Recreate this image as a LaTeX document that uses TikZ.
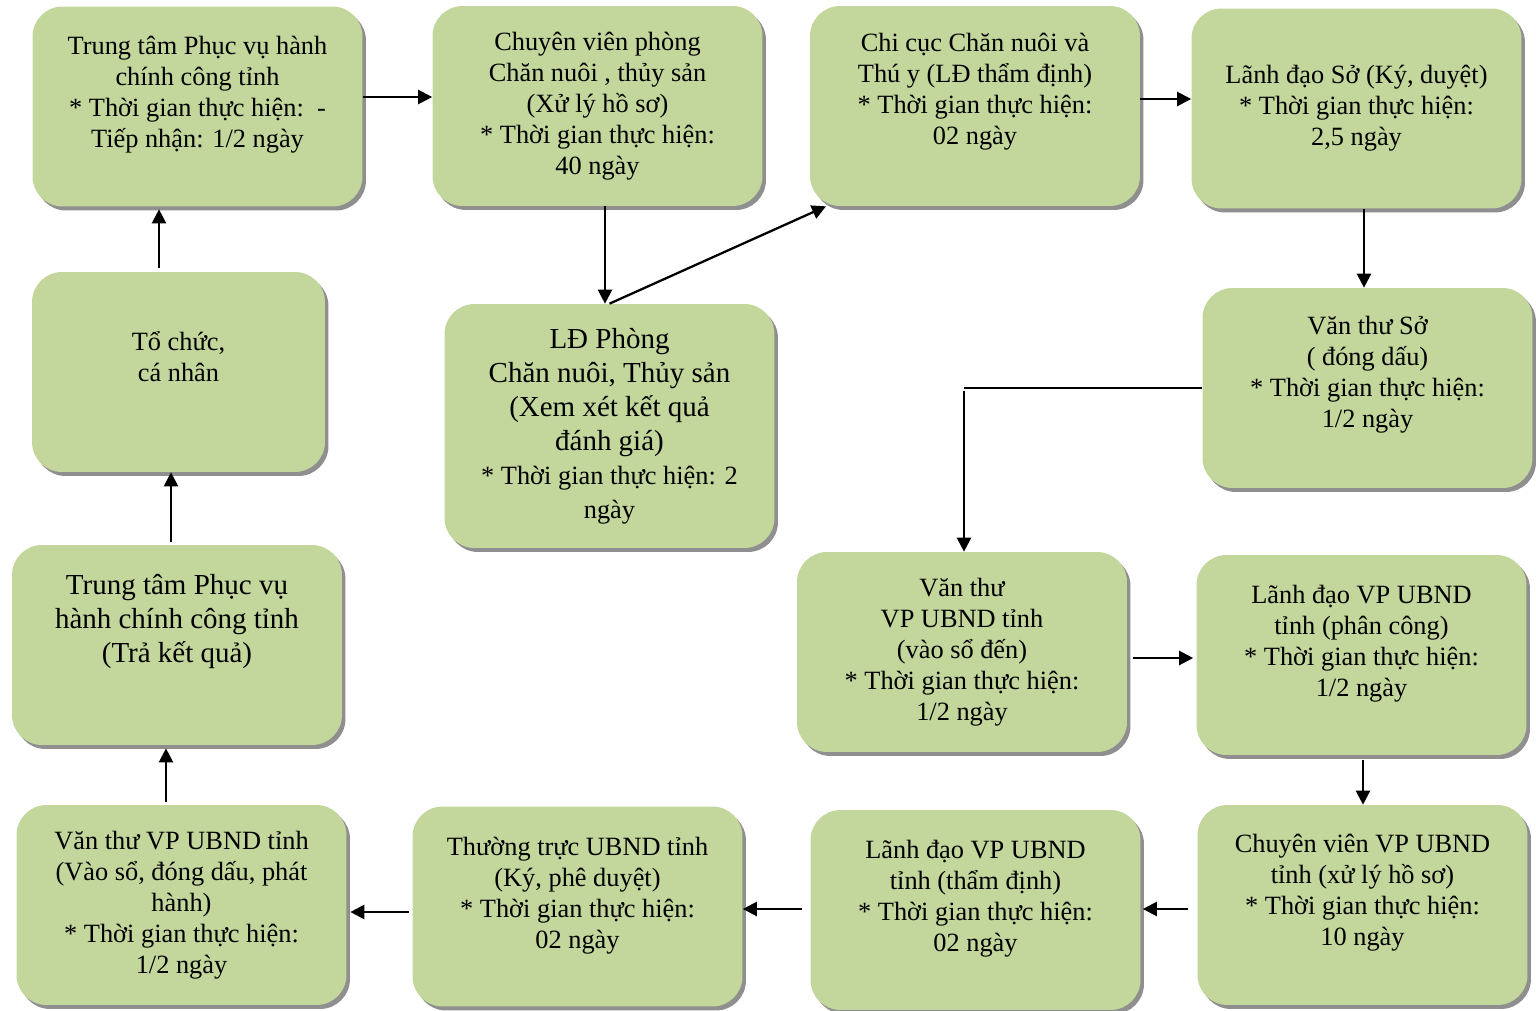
\documentclass[tikz,border=0pt]{standalone}
\usepackage{fontspec}
\setmainfont{Liberation Serif}
\usetikzlibrary{arrows.meta,shadows}

\definecolor{verde}{HTML}{C3D69B}
\newcommand{\bxfont}{\fontsize{15}{17.6}\selectfont}
\newcommand{\bxbigfont}{\fontsize{16.5}{19.3}\selectfont}
\newcommand{\txtlift}[1]{\rule[-#1]{0pt}{#1}}

\tikzset{
  caja/.style={rectangle, rounded corners=0.6cm, fill=verde,
    minimum width=6.6cm, minimum height=4cm, align=center, font=\bxfont,
    drop shadow={shadow xshift=0.07cm, shadow yshift=-0.08cm, fill=black!55, opacity=0.8}},
  flecha/.style={-{Triangle[length=0.28cm,width=0.28cm]}, line width=1.3pt}
}

\begin{document}
\begin{tikzpicture}[x=0.02cm, y=-0.02cm]
    \useasboundingbox (0,0) rectangle (1536,1011);

    % Fila superior
    \node[caja] (a) at (197.5,106.5) {Trung tâm Phục vụ hành\\chính công tỉnh\\{}* Thời gian thực hiện:\ \ -\\Tiếp nhận: 1/2 ngày\txtlift{0.6cm}};
    \node[caja] (b) at (597.5,106) {Chuyên viên phòng\\Chăn nuôi , thủy sản\\(Xử lý hồ sơ)\\{}* Thời gian thực hiện:\\40 ngày};
    \node[caja] (c) at (975,106) {Chi cục Chăn nuôi và\\Thú y (LĐ thẩm định)\\{}* Thời gian thực hiện:\\02 ngày\txtlift{0.68cm}};
    \node[caja] (d) at (1356.5,108.5) {Lãnh đạo Sở (Ký, duyệt)\\{}* Thời gian thực hiện:\\2,5 ngày};

    % Segunda fila
    \node[caja, minimum width=5.86cm] (e) at (178.5,372) {Tổ chức,\\cá nhân\txtlift{0.64cm}};
    \node[caja, minimum height=4.88cm, font=\bxbigfont] (f) at (609.5,426) {LĐ Phòng\\Chăn nuôi, Thủy sản\\(Xem xét kết quả\\đánh giá)\\\bxfont{}* Thời gian thực hiện: 2\\\bxfont ngày};
    \node[caja] (g) at (1367.5,388) {Văn thư Sở\\( đóng dấu)\\{}* Thời gian thực hiện:\\1/2 ngày\txtlift{0.64cm}};

    % Tercera fila
    \node[caja, font=\bxbigfont] (h) at (177,645) {Trung tâm Phục vụ\\hành chính công tỉnh\\(Trả kết quả)\txtlift{1.08cm}};
    \node[caja] (i) at (962,652) {Văn thư\\VP UBND tỉnh\\(vào sổ đến)\\{}* Thời gian thực hiện:\\1/2 ngày};
    \node[caja] (j) at (1361.5,655) {Lãnh đạo VP UBND\\tỉnh (phân công)\\{}* Thời gian thực hiện:\\1/2 ngày\txtlift{0.56cm}};

    % Fila inferior
    \node[caja] (k) at (181.5,905) {Văn thư VP UBND tỉnh\\(Vào sổ, đóng dấu, phát\\hành)\\{}* Thời gian thực hiện:\\1/2 ngày};
    \node[caja] (l) at (577.5,906.5) {Thường trực UBND tỉnh\\(Ký, phê duyệt)\\{}* Thời gian thực hiện:\\02 ngày\txtlift{0.56cm}};
    \node[caja] (m) at (975.5,910) {Lãnh đạo VP UBND\\tỉnh (thẩm định)\\{}* Thời gian thực hiện:\\02 ngày\txtlift{0.56cm}};
    \node[caja] (n) at (1362.5,905) {Chuyên viên VP UBND\\tỉnh (xử lý hồ sơ)\\{}* Thời gian thực hiện:\\10 ngày\txtlift{0.6cm}};

    % Flechas
    \draw[flecha] (a.east |- 0,97) -- (b.west |- 0,97);
    \draw[flecha] (b.south -| 605,0) -- (f.north -| 605,0);
    \draw[flecha] (f.north) -- (c.south west -| 826,0);
    \draw[flecha] (c.east |- 0,99) -- (d.west |- 0,99);
    \draw[flecha] (d.south -| 1364,0) -- (g.north -| 1364,0);
    \draw[line width=1pt] (g.west) -- (g.west -| 964,0);
    \draw[flecha] (g.west -| 964,0) ++(0,3) -- (i.north -| 964,0);
    \draw[flecha, shorten <=0.12cm, shorten >=0.06cm] (i.east |- 0,658) -- (j.west |- 0,658);
    \draw[flecha, shorten <=0.1cm] (j.south -| 1363,0) -- (n.north -| 1363,0);
    \draw[flecha, shorten <=0.19cm, shorten >=0.04cm] (n.west |- 0,909) -- (m.east |- 0,909);
    \draw[flecha, shorten <=0.17cm] (m.west |- 0,909) -- (l.east |- 0,909);
    \draw[flecha, shorten <=0.07cm, shorten >=0.07cm] (l.west |- 0,912) -- (k.east |- 0,912);
    \draw[flecha, shorten <=0.06cm, shorten >=0.06cm] (k.north -| 166,0) -- (h.south -| 166,0);
    \draw[flecha, shorten <=0.06cm] (h.north -| 171,0) -- (e.south -| 171,0);
    \draw[flecha, shorten <=0.08cm, shorten >=0.05cm] (e.north -| 159,0) -- (a.south -| 159,0);
\end{tikzpicture}
\end{document}
